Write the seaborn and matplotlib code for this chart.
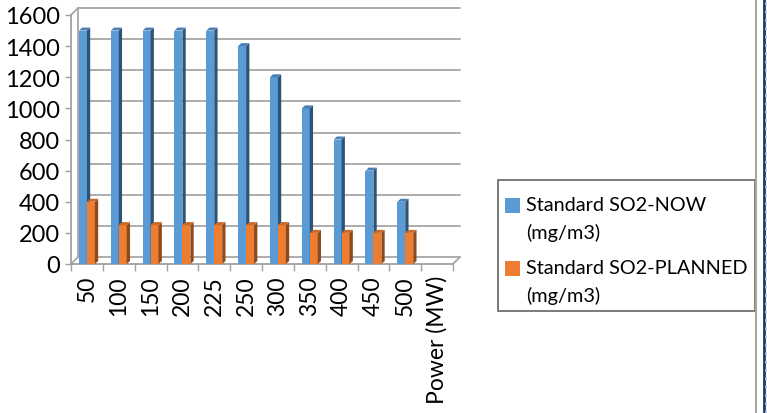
import numpy as np
import pandas as pd
import matplotlib
matplotlib.use("Agg")
import matplotlib.pyplot as plt
import seaborn as sns
from matplotlib.patches import Polygon, Rectangle, Patch
from matplotlib.lines import Line2D
from matplotlib.legend_handler import HandlerPatch
from matplotlib.transforms import IdentityTransform

categories = ["50", "100", "150", "200", "225", "250", "300", "350", "400", "450", "500", "Power (MW)"]
series_names = ["Standard SO2-NOW (mg/m3)", "Standard SO2-PLANNED (mg/m3)"]
now_values = [1500, 1500, 1500, 1500, 1500, 1400, 1200, 1000, 800, 600, 400, np.nan]
planned_values = [400, 250, 250, 250, 250, 250, 250, 200, 200, 200, 200, np.nan]
y_ticks = [0, 200, 400, 600, 800, 1000, 1200, 1400, 1600]
legend_labels = ["Standard SO2-NOW\n(mg/m3)", "Standard SO2-PLANNED\n(mg/m3)"]

front_colors = ["#5B9BD5", "#ED7D31"]
side_colors = ["#2F5375", "#8E4A1B"]
top_colors = ["#4A80B8", "#C9692A"]

df = pd.DataFrame({
    "category": categories * 2,
    "series": [series_names[0]] * len(categories) + [series_names[1]] * len(categories),
    "value": now_values + planned_values,
})

sns.set_theme(style="white")
plt.rcParams["font.family"] = ["Lato", "DejaVu Sans"]

W, H = 767, 414
fig = plt.figure(figsize=(W / 100, H / 100), dpi=100)
ax_l, ax_r, ax_t, ax_b = 71, 453, 16, 265
ax = fig.add_axes([ax_l / W, 1 - ax_b / H, (ax_r - ax_l) / W, (ax_b - ax_t) / H])

sns.barplot(data=df, x="category", y="value", hue="series", order=categories,
            hue_order=series_names, palette=front_colors, width=0.5,
            saturation=1, ax=ax, legend=False, linewidth=0, zorder=3)

ax.set_xlim(-0.5, len(categories) - 0.5)
ax.set_ylim(0, 1600)

# pixel -> data conversion
px_x = (len(categories)) / (ax_r - ax_l)
px_y = 1600 / (ax_b - ax_t)

# back wall (depth offset)
wdx, wdy = 7 * px_x, 7 * px_y
grid_c = "#A6A6A6"
x0, x1 = -0.5, len(categories) - 0.5
for v in y_ticks:
    ax.plot([x0 + wdx, x1 + wdx], [v + wdy, v + wdy], color=grid_c, lw=1.3,
            zorder=1, clip_on=False)
ax.plot([x0 + wdx, x0 + wdx], [wdy, 1600 + wdy], color=grid_c, lw=1.3, zorder=1, clip_on=False)
for (xx, yy) in [(x0, 0), (x0, 1600), (x1, 0)]:
    ax.plot([xx, xx + wdx], [yy, yy + wdy], color=grid_c, lw=1.3, zorder=1, clip_on=False)

# 3D faces for bars
bdx, bdy = 3.3 * px_x, 3 * px_y
for ci, cont in enumerate(ax.containers):
    for p in cont.patches:
        h = p.get_height()
        if not np.isfinite(h) or h <= 0:
            continue
        x = p.get_x(); w = p.get_width()
        z = 4 + ci
        p.set_zorder(z)
        side = Polygon([(x + w, 0), (x + w + bdx, bdy), (x + w + bdx, h + bdy), (x + w, h)],
                       closed=True, facecolor=side_colors[ci], edgecolor="none", zorder=z, clip_on=False)
        top = Polygon([(x, h), (x + bdx, h + bdy), (x + w + bdx, h + bdy), (x + w, h)],
                      closed=True, facecolor=top_colors[ci], edgecolor="none", zorder=z, clip_on=False)
        ax.add_patch(side)
        ax.add_patch(top)

for s in ["top", "right"]:
    ax.spines[s].set_visible(False)
for s in ["left", "bottom"]:
    ax.spines[s].set_color("#A0A0A0")
    ax.spines[s].set_linewidth(1.3)
    ax.spines[s].set_zorder(2)

ax.set_yticks(y_ticks)
ax.set_yticklabels([str(v) for v in y_ticks], fontsize=17, color="black")
ax.tick_params(axis="y", which="major", length=4, width=1, color="#A0A0A0", pad=4, left=True)
ax.set_xticks(range(len(categories)))
ax.set_xticklabels(categories, rotation=90, fontsize=16.5, va="top", color="black")
ax.set_xticks(np.arange(-0.5, len(categories)), minor=True)
ax.tick_params(axis="x", which="major", length=0, pad=8)
ax.tick_params(axis="x", which="minor", length=5, width=1, color="#A0A0A0", bottom=True)
ax.set_xlabel("")
ax.set_ylabel("")
ax.grid(False)


class TopAlignedHandler(HandlerPatch):
    def __init__(self, shift, **kw):
        super().__init__(**kw)
        self.shift = shift

    def create_artists(self, legend, orig_handle, xdescent, ydescent, width, height,
                       fontsize, trans):
        r = Rectangle((-xdescent, -ydescent + self.shift * fontsize), width, height,
                      facecolor=orig_handle.get_facecolor(), edgecolor="none", transform=trans)
        return [r]


leg_fs = 14.3
extra_top = 9
handles = [Patch(facecolor=front_colors[0], edgecolor="none"),
           Patch(facecolor=front_colors[1], edgecolor="none")]
hmap = {h: TopAlignedHandler(0.68) for h in handles}
leg = fig.legend(handles, legend_labels, loc="upper left",
                 bbox_to_anchor=(498 / W, 1 - (181 + extra_top) / H),
                 frameon=False, borderaxespad=0, handlelength=0.78,
                 handleheight=0.78, handletextpad=0.3, labelspacing=0.9, borderpad=0.35,
                 prop={"size": leg_fs}, handler_map=hmap)
for t in leg.get_texts():
    t.set_linespacing(1.68)
    t.set_color("black")

fig.canvas.draw()
bb = leg.get_window_extent()
fig.add_artist(Rectangle((bb.x0, bb.y0), bb.width, bb.height + extra_top, fill=False,
                         edgecolor="#6F6F6F", linewidth=1.3, transform=IdentityTransform()))

# right page border
fig.add_artist(Line2D([756 / W, 756 / W], [0, 1], color="#A6A6A6", lw=1.5, transform=fig.transFigure))
fig.add_artist(Line2D([763.5 / W, 763.5 / W], [0, 1], color="#1F3A6B", lw=2, transform=fig.transFigure))
fig.add_artist(Line2D([766 / W, 766 / W], [0, 1], color="#B8C4D8", lw=2, ls=(0, (1, 2)),
                      transform=fig.transFigure))

fig.savefig("out.png", dpi=100)
